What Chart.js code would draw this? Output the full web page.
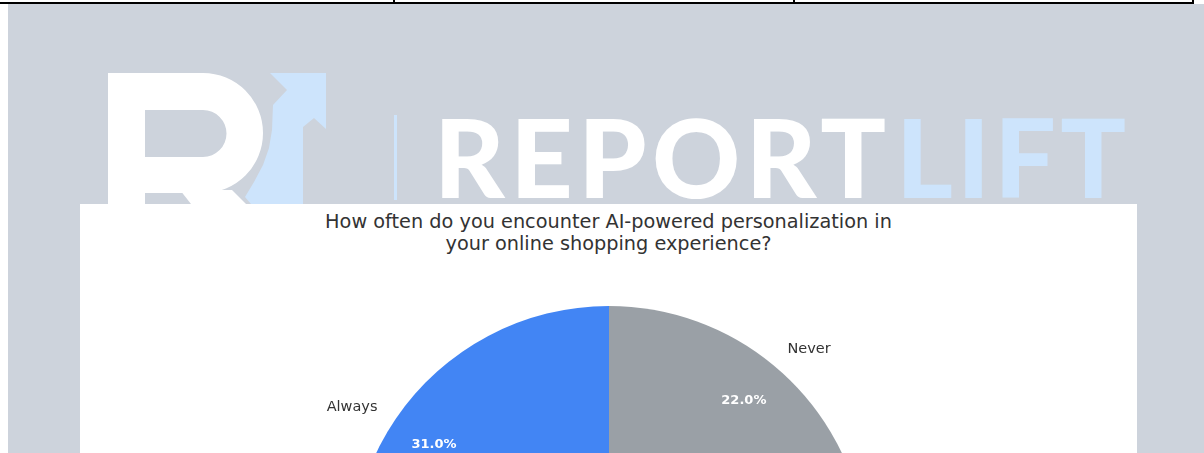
<!DOCTYPE html>
<html>
<head>
<meta charset="utf-8">
<script src="https://cdn.jsdelivr.net/npm/chart.js@4/dist/chart.umd.min.js"></script>
<style>
  html, body { margin: 0; padding: 0; background: #fff; overflow: hidden; width: 1204px; height: 453px; }
  .topline { position: absolute; left: 0; top: 2px; width: 1194px; height: 2px; background: #000; }
  .tick { position: absolute; top: 0; width: 2px; height: 3px; background: #000; }
  .backdrop { position: absolute; left: 8px; top: 4px; width: 1196px; height: 800px; background: rgb(205,211,220); }
  .logo { position: absolute; left: 0; top: 0; }
  .card { position: absolute; left: 80px; top: 204px; width: 1057px; height: 700px; background: #fff; }
  .card-title {
    position: absolute; left: 0; top: 7px; width: 100%;
    text-align: center; font-family: "DejaVu Sans", sans-serif; font-size: 19.3px;
    line-height: 21.5px; color: #333;
  }
  #pieChart { position: absolute; left: 0; top: 0; }
</style>
</head>
<body>
<div class="topline"></div>
<div class="tick" style="left:393px"></div>
<div class="tick" style="left:793px"></div>
<div class="tick" style="left:1192px"></div>
<div class="backdrop"></div>

<svg class="logo" width="1204" height="204" viewBox="0 0 1204 204">
  <!-- arrow mark -->
  <polygon fill="#cde4fc" points="270,73 326,73 326,129 314,118 303,127 303,204 251,204 245,197 254,182 263,165 269,148 272,130 273,105 287,90"/>
  <!-- R mark -->
  <path fill="#fff" fill-rule="evenodd"
        d="M108,73 H203 A60,60 0 0 1 203,193 H145 V204 H108 Z
           M145,110 H203 A23.5,23.5 0 0 1 203,157 H145 Z"/>
  <polygon fill="#fff" points="180,190 232,190 246,204 191,204"/>
  <rect x="394" y="115" width="3" height="85" fill="#cde4fc"/>
  <text x="434" y="198" font-family="Lato" font-weight="900" font-size="109" fill="#fff"
        textLength="452" lengthAdjust="spacing">REPORT</text>
  <text x="896" y="198" font-family="Lato" font-weight="900" font-size="109" fill="#cde4fc"
        textLength="230" lengthAdjust="spacing">LIFT</text>
</svg>

<div class="card">
  <div class="card-title">How often do you encounter AI-powered personalization in<br>your online shopping experience?</div>
  <canvas id="pieChart" width="1057" height="700"></canvas>
</div>

<script>
// survey answers, in the order they were plotted (counter-clockwise from the top)
const categories = ["Always", "Often", "Sometimes", "Rarely", "Never"];
const shares = [31, 20, 17, 10, 22];
const sliceColors = ["#4285F4", "#34A853", "#FBBC04", "#EA4335", "#9AA0A6"];

// chart.js goes clockwise, so flip the order to get the same layout
const labels = categories.slice().reverse();
const values = shares.slice().reverse();
const colors = sliceColors.slice().reverse();

const sliceLabels = {
    id: "sliceLabels",
    afterDatasetsDraw(chart) {
        const ctx = chart.ctx;
        const meta = chart.getDatasetMeta(0);
        const total = values.reduce((a, b) => a + b, 0);
        ctx.save();
        meta.data.forEach((arc, i) => {
            const p = arc.getProps(["x", "y", "startAngle", "endAngle", "outerRadius"], true);
            const mid = (p.startAngle + p.endAngle) / 2;
            const cos = Math.cos(mid), sin = Math.sin(mid);

            // category name outside the slice
            ctx.font = "14.5px 'DejaVu Sans'";
            ctx.fillStyle = "#333";
            ctx.textBaseline = "middle";
            ctx.textAlign = cos >= 0 ? "left" : "right";
            ctx.fillText(labels[i], p.x + cos * p.outerRadius * 1.085, p.y + sin * p.outerRadius * 1.085 + 1);

            // percentage inside
            ctx.font = "bold 13px 'DejaVu Sans'";
            ctx.fillStyle = "#fff";
            ctx.textAlign = "center";
            const pct = (values[i] / total * 100).toFixed(1) + "%";
            ctx.fillText(pct, p.x + cos * p.outerRadius * 0.82, p.y + sin * p.outerRadius * 0.82);
        });
        ctx.restore();
    }
};

const ctx = document.getElementById("pieChart").getContext("2d");
new Chart(ctx, {
    type: "pie",
    data: {
        labels: labels,
        datasets: [{
            data: values,
            backgroundColor: colors,
            borderWidth: 0,
            hoverOffset: 0
        }]
    },
    options: {
        responsive: false,
        animation: false,
        layout: { padding: { left: 271, right: 270, top: 102, bottom: 82 } },
        plugins: {
            legend: { display: false },
            tooltip: { enabled: false }
        }
    },
    plugins: [sliceLabels]
});
</script>
</body>
</html>
